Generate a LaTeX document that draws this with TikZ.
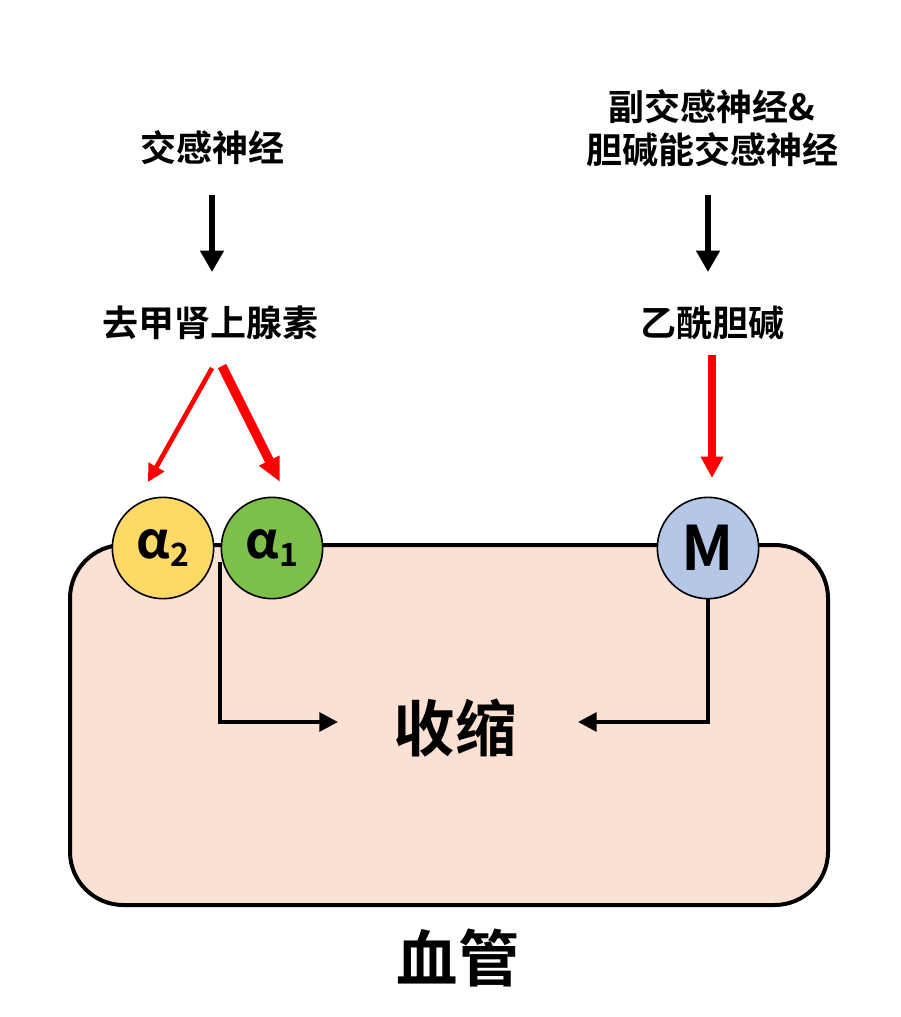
\documentclass[tikz,border=0pt]{standalone}
\usepackage{fontspec}
\setmainfont{Noto Sans CJK SC Bold}
\usetikzlibrary{arrows.meta}
\definecolor{peach}{HTML}{FBE1D3}
\definecolor{ayel}{HTML}{FFD966}
\definecolor{agrn}{HTML}{7CC04A}
\definecolor{mblu}{HTML}{B4C7E7}
\tikzset{lbl/.style={font=\fontsize{27}{32}\selectfont},
 big/.style={font=\fontsize{46}{50}\selectfont},
 rec/.style={circle,draw=black,line width=1.2pt,minimum size=76pt,inner sep=0pt,font=\fontsize{38}{38}\selectfont},
 blk/.style={line width=4.5pt,-{Triangle[length=16pt,width=17pt]}},
 con/.style={line width=3pt,-{Triangle[length=14pt,width=14pt]}},
 red/.style={draw=red,line width=4.5pt,-{Triangle[length=16pt,width=16pt]}}}
\begin{document}
\begin{tikzpicture}[x=0.75pt,y=-0.75pt]
\useasboundingbox (0,0) rectangle (900,1017);
\draw[fill=peach,line width=3pt,rounded corners=40pt] (70,545) rectangle (828,905);
\node[rec,fill=ayel] (a2) at (163,548) {α\raisebox{-0.15em}{\fontsize{24}{24}\selectfont 2}};
\node[rec,fill=agrn] (a1) at (272,548) {α\raisebox{-0.15em}{\fontsize{24}{24}\selectfont 1}};
\node[rec,fill=mblu,font=\fontsize{46}{46}\selectfont] (m) at (708,548) {M};
\node[lbl] (sym) at (212,148) {交感神经};
\node[lbl] (ne) at (210,323) {去甲肾上腺素};
\node[lbl,align=center] (para) at (712,128) {副交感神经\&\\胆碱能交感神经};
\node[lbl] (ach) at (712,323) {乙酰胆碱};
\node[big] (con) at (455,728) {收缩};
\node[big] (ves) at (458,958) {血管};
\coordinate (s1) at (212,195); \coordinate (s2) at (212,272);
\coordinate (p1) at (708,195); \coordinate (p2) at (708,272);
\coordinate (r0) at (212,368); \coordinate (r1) at (148,482);
\coordinate (q0) at (222,366); \coordinate (q1) at (280,482);
\coordinate (m0) at (712,355); \coordinate (m1) at (712,478);
\coordinate (j) at (220,562);
\coordinate (cl) at (338,722); \coordinate (cr) at (578,722);
\draw[blk] (s1) -- (s2);
\draw[blk] (p1) -- (p2);
\draw[red,line width=3.5pt,-{Triangle[length=13pt,width=13pt]}] (r0) -- (r1);
\draw[red,line width=7pt,-{Triangle[length=18pt,width=16pt]}] (q0) -- (q1);
\draw[red,line width=6pt] (m0) -- (m1);
\draw[con] (j) |- (cl);
\draw[con] (m.south) |- (cr);
\end{tikzpicture}
\end{document}
